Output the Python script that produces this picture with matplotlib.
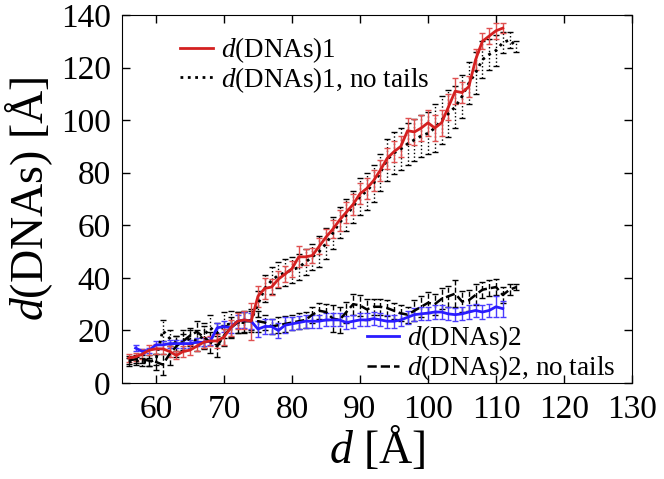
"""
d(DNAs) vs d, with and without tails
"""

import matplotlib
matplotlib.use("Agg")
import matplotlib.pyplot as plt
import numpy as np

plt.rcParams['font.family'] = ['Liberation Serif', 'DejaVu Serif']
plt.rcParams['mathtext.fontset'] = 'custom'
plt.rcParams['mathtext.rm'] = 'Liberation Serif'
plt.rcParams['mathtext.it'] = 'Liberation Serif:italic'

# d(DNAs)1, d = 56..111
d_dna1 = np.arange(56, 112)
dna1 = [9.5, 10, 11, 12.5, 13, 13, 12, 10.5, 12, 12.5, 14, 15.5, 16, 16,
        17.5, 21, 23.5, 24, 23.5, 33, 36, 36.5, 39.5, 41.5,
        43.5, 48, 48, 48.5, 52, 55.5, 58.5, 62, 65, 68,
        72, 74, 77, 81, 85.5, 88, 90, 96, 95.5, 97,
        99, 97, 99, 105, 111, 110.5, 112.7, 123, 130, 132, 134, 135]
dna1_err = [1.5, 1.5, 2, 2, 2, 2, 2, 1.5, 2, 2, 2, 2, 2, 2.5,
            3, 3, 3, 3.5, 7, 4, 4, 3, 3, 3,
            3, 4, 3, 3, 3, 3, 3.5, 4, 4, 4,
            4, 4, 4, 4, 4, 4, 4, 5, 5, 5,
            5, 5, 5, 5, 5, 4, 4, 4, 3, 3, 3, 2]

# d(DNAs)1, no tails, d = 56..113
d_dna1_nt = np.arange(56, 114)
dna1_nt = [8, 8.5, 8, 8, 9, 20, 17, 15, 15.5, 17, 16, 18, 21, 19,
           22, 22.5, 23, 23, 24, 30, 36, 39, 41, 42,
           43, 44, 46, 48, 50, 53, 57, 61, 64, 67,
           71, 73, 76, 80, 85, 87.5, 89, 91, 92.5, 94,
           95, 97, 100, 102.5, 105, 109, 114, 118, 123, 125, 126.5, 129.5,
           130.5, 128]
dna1_nt_err = [1.5, 1.5, 1.5, 1.5, 2, 4, 3, 3, 3, 3, 4, 5, 5, 4,
               5, 5, 4, 4, 4, 5, 5, 5, 5, 5,
               5, 5, 5, 5, 6, 6, 6, 6, 6, 6,
               7, 7, 7, 7, 8, 8, 8, 8, 8, 8,
               8, 9, 9, 9, 8, 8, 8, 8, 7, 6, 6, 4, 3, 2]

# d(DNAs)2, d = 57..111
d_dna2 = np.arange(57, 112)
dna2 = [13.3, 12, 12.5, 14.5, 14.5, 15, 15, 15, 15, 15.5, 15.5, 16, 21,
        21.5, 21, 23.5, 24, 23.5, 20.5, 21.5, 21.5, 20, 22,
        22.5, 23, 23.5, 23.5, 23.5, 24, 24, 24, 23, 23.5,
        24, 24, 24.5, 24, 23.5, 23.5, 24, 25, 26, 26.3,
        26.6, 27, 27, 26.3, 26, 26.3, 27, 27.6, 27, 27.6, 29, 28.3]
dna2_err = [1, 1, 1, 1.5, 1.5, 1.5, 1.5, 1.5, 1.5, 1.5, 1.5, 1.5, 2,
            2, 2, 2.5, 3, 3, 3, 3, 3, 3, 3,
            2.5, 2.5, 2.5, 2.5, 2.5, 2.5, 2.5, 2.5, 2.5, 2.5,
            2.5, 2.5, 2.5, 2.5, 2.5, 2.5, 2.5, 2.5, 2.5, 2.5,
            2.5, 2.5, 2.5, 2.5, 2.5, 2.5, 2.5, 2.5, 2.5, 2.5, 4, 3]

# d(DNAs)2, no tails, d = 56..113
d_dna2_nt = np.arange(56, 114)
dna2_nt = [8.7, 9, 9, 8.5, 8, 7, 11, 14, 16, 18, 19.5, 17.5, 15.5, 14,
           18, 21, 23, 23.5, 23.5, 23.5, 23, 21.5, 22, 22.5,
           23, 23.5, 24, 26, 27.5, 27, 24.5, 24, 27, 30,
           29.5, 28, 29, 29, 28.5, 27.5, 26.5, 26, 27.5, 29,
           30.5, 30, 32, 33, 34, 31, 31.5, 33.5, 35.5, 36, 36.5, 33.5,
           35.5, 36.5]
dna2_nt_err = [1.5, 1.5, 1.5, 2, 3, 4, 4, 4, 4, 3, 4, 4, 4, 4,
               4, 4, 4, 4, 4, 4, 3, 3, 3, 3,
               3, 3, 3, 3, 3, 3, 5, 5, 4, 4,
               4, 4, 3, 3, 3, 3, 3, 3, 4, 4,
               4, 4, 4, 4, 5, 4, 4, 4, 3, 3, 3, 3, 2, 1]


def draw(ax, x, y, err, color, ecolor, ls, lw):
    """
    line with error bars in the same line style
    """
    cont = ax.errorbar(x, y, yerr=err, color=color, ecolor=ecolor, ls=ls,
                       lw=lw, elinewidth=1.0, capsize=2.5, capthick=1.0)
    for bar in cont[2]:
        bar.set_linestyle(ls)
    return cont[0]


fig = plt.figure(figsize=(6.64, 4.79), dpi=100)
ax = fig.add_axes([0.1837, 0.2004, 0.7681, 0.7683])

h_nt1 = draw(ax, d_dna1_nt, dna1_nt, dna1_nt_err, 'black', 'black', ':', 2.0)
h_nt2 = draw(ax, d_dna2_nt, dna2_nt, dna2_nt_err, 'black', 'black', '--', 1.8)
h_2 = draw(ax, d_dna2, dna2, dna2_err, '#2a1cff', '#4a3cff', '-', 2.0)
h_1 = draw(ax, d_dna1, dna1, dna1_err, '#d42020', '#e05050', '-', 2.0)

ax.set_xlim(55, 130)
ax.set_ylim(0, 140)
ax.set_xticks(range(60, 131, 10))
ax.set_yticks(range(0, 141, 20))
ax.tick_params(direction='in', top=True, right=True, length=6, width=1,
               labelsize=24)
ax.tick_params(axis='x', pad=8)
ax.tick_params(axis='y', pad=8)
ax.set_xlabel(r'$d$ [Å]', fontsize=33, labelpad=0)
ax.set_ylabel(r'$d$(DNAs) [Å]', fontsize=33, labelpad=4)

leg1 = ax.legend([h_1, h_nt1], [r'$d$(DNAs)1', r'$d$(DNAs)1, no tails'],
                 loc='upper left', bbox_to_anchor=(0.114, 0.945),
                 frameon=False, fontsize=19.5, handlelength=1.2,
                 handletextpad=0.3, labelspacing=0.0, borderpad=0,
                 borderaxespad=0)
ax.add_artist(leg1)
ax.legend([h_2, h_nt2], [r'$d$(DNAs)2', r'$d$(DNAs)2, no tails'],
          loc='lower left', bbox_to_anchor=(0.48, 0.0),
          frameon=False, fontsize=19.5, handlelength=1.2,
          handletextpad=0.3, labelspacing=0.0, borderpad=0,
          borderaxespad=0)

fig.savefig('out.png', dpi=100)
